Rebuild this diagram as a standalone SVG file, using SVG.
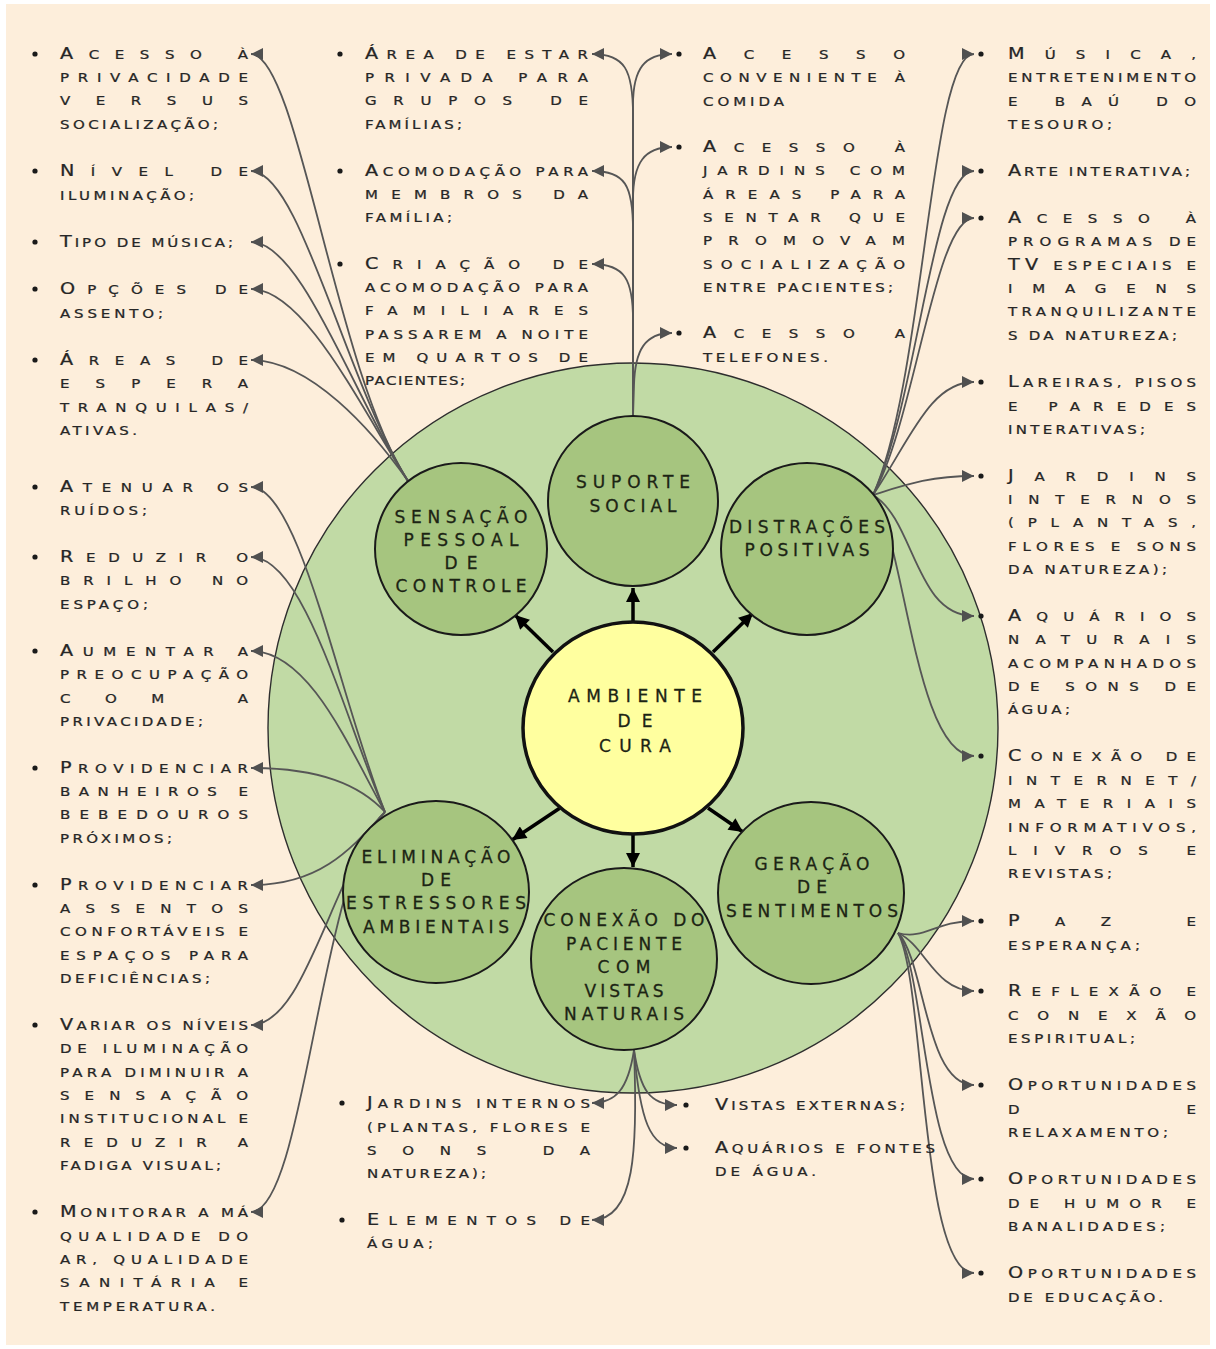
<svg xmlns="http://www.w3.org/2000/svg" width="1216" height="1349" viewBox="0 0 1216 1349">
<style>
.big{fill:#c1daa5;stroke:#2e2e2e;stroke-width:1.4}
.node{fill:#a6c57f;stroke:#1a1a1a;stroke-width:2}
.core{fill:#ffff9f;stroke:#111;stroke-width:3.5}
.lbl{font-family:"DejaVu Sans",sans-serif;font-size:17px;fill:#1c2414;stroke:#1c2414;stroke-width:0.3;text-anchor:middle}
.t{font-family:"DejaVu Sans",sans-serif;font-size:12.5px;fill:#262626;stroke:#262626;stroke-width:0.25}
.i{font-size:16px}
.c{fill:none;stroke:#565656;stroke-width:1.8;marker-end:url(#ah)}
.a{fill:none;stroke:#000;stroke-width:3.5;marker-end:url(#bh)}
.b{fill:#1a1a1a}
</style>
<defs>
<marker id="ah" viewBox="0 0 10 10" refX="10" refY="5" markerWidth="12" markerHeight="12" markerUnits="userSpaceOnUse" orient="auto"><path d="M0,0 L10,5 L0,10 z" fill="#505050"/></marker>
<marker id="bh" viewBox="0 0 10 10" refX="10" refY="5" markerWidth="15" markerHeight="14" markerUnits="userSpaceOnUse" orient="auto"><path d="M0,0 L10,5 L0,10 z" fill="#000"/></marker>
</defs>
<rect width="1216" height="1349" fill="#ffffff"/>
<rect x="6" y="4" width="1204" height="1341" fill="#fdeedb"/>
<circle class="big" cx="633" cy="728" r="365"/>

<g id="connectors">
<path class="a" d="M633,622 L633,588"/>
<path class="a" d="M553,652 L515,615"/>
<path class="a" d="M713,652 L753,613"/>
<path class="a" d="M560,808 L512,840"/>
<path class="a" d="M708,808 L743,832"/>
<path class="a" d="M633,834 L633,867"/>
<path class="c" d="M408,481 C335,370 298,54 251,54"/>
<path class="c" d="M408,481 C345,380 300,171 251,171"/>
<path class="c" d="M408,481 C355,400 302,242 251,242"/>
<path class="c" d="M408,481 C362,410 305,289 251,289"/>
<path class="c" d="M408,481 C372,430 310,360 251,360"/>
<path class="c" d="M633,417 L633,115 C633,70 625,54 592,54"/>
<path class="c" d="M633,417 L633,230 C633,185 625,171 592,171"/>
<path class="c" d="M633,417 L633,320 C633,280 625,264 592,264"/>
<path class="c" d="M633,417 L633,105 C633,68 645,54 672,54"/>
<path class="c" d="M633,417 L633,200 C633,162 645,147 672,147"/>
<path class="c" d="M633,417 L634,385 C635,350 645,333 672,333"/>
<path class="c" d="M873,495 C925,380 930,54 974,54"/>
<path class="c" d="M873,495 C918,400 932,171 974,171"/>
<path class="c" d="M873,495 C915,420 935,218 974,218"/>
<path class="c" d="M873,495 C910,440 930,382 974,382"/>
<path class="c" d="M873,495 C905,485 930,476 974,476"/>
<path class="c" d="M873,495 C915,520 915,616 974,616"/>
<path class="c" d="M873,495 C905,540 915,756 974,756"/>
<path class="c" d="M385,812 C340,700 300,487 251,487"/>
<path class="c" d="M385,812 C345,720 305,557 251,557"/>
<path class="c" d="M385,812 C350,750 310,651 251,651"/>
<path class="c" d="M385,812 C360,785 320,768 251,768"/>
<path class="c" d="M385,812 C350,850 320,885 251,885"/>
<path class="c" d="M385,812 C330,880 305,1025 251,1025"/>
<path class="c" d="M385,812 C320,870 305,1212 251,1212"/>
<path class="c" d="M634,1050 C628,1090 615,1103 592,1103"/>
<path class="c" d="M634,1050 C638,1150 635,1220 592,1220"/>
<path class="c" d="M634,1050 C640,1090 650,1105 677,1105"/>
<path class="c" d="M634,1050 C640,1120 650,1148 677,1148"/>
<path class="c" d="M898,933 C925,940 935,921 974,921"/>
<path class="c" d="M898,933 C925,945 935,991 974,991"/>
<path class="c" d="M898,933 C925,960 925,1085 974,1085"/>
<path class="c" d="M898,933 C925,970 925,1179 974,1179"/>
<path class="c" d="M898,933 C925,980 920,1273 974,1273"/>
</g>

<g id="n-core"><ellipse class="core" cx="633" cy="728" rx="110" ry="106"/>
<text class="lbl" x="635" y="702" textLength="134">AMBIENTE</text>
<text class="lbl" x="635" y="727" textLength="35">DE</text>
<text class="lbl" x="635" y="752" textLength="72">CURA</text></g>

<g id="n-suporte"><circle class="node" cx="633" cy="501" r="85"/>
<text class="lbl" x="633" y="488" textLength="114">SUPORTE</text>
<text class="lbl" x="633" y="512" textLength="87">SOCIAL</text></g>

<g id="n-sensacao"><circle class="node" cx="461" cy="549" r="86"/>
<text class="lbl" x="461" y="523" textLength="133">SENSAÇÃO</text>
<text class="lbl" x="461" y="546" textLength="115">PESSOAL</text>
<text class="lbl" x="461" y="569" textLength="33">DE</text>
<text class="lbl" x="461" y="592" textLength="131">CONTROLE</text></g>

<g id="n-distracoes"><circle class="node" cx="807" cy="549" r="86"/>
<text class="lbl" x="807" y="533" textLength="156">DISTRAÇÕES</text>
<text class="lbl" x="807" y="556" textLength="125">POSITIVAS</text></g>

<g id="n-eliminacao"><ellipse class="node" cx="436" cy="892" rx="93" ry="91"/>
<text class="lbl" x="436" y="863" textLength="149">ELIMINAÇÃO</text>
<text class="lbl" x="436" y="886" textLength="30">DE</text>
<text class="lbl" x="436" y="909" textLength="180">ESTRESSORES</text>
<text class="lbl" x="436" y="933" textLength="146">AMBIENTAIS</text></g>

<g id="n-conexao"><ellipse class="node" cx="624" cy="959" rx="93" ry="91"/>
<text class="lbl" x="624" y="926" textLength="161">CONEXÃO DO</text>
<text class="lbl" x="624" y="950" textLength="116">PACIENTE</text>
<text class="lbl" x="624" y="973" textLength="53">COM</text>
<text class="lbl" x="624" y="997" textLength="79">VISTAS</text>
<text class="lbl" x="624" y="1020" textLength="120">NATURAIS</text></g>

<g id="n-geracao"><ellipse class="node" cx="811" cy="893" rx="93" ry="91"/>
<text class="lbl" x="812" y="870" textLength="115">GERAÇÃO</text>
<text class="lbl" x="812" y="893" textLength="30">DE</text>
<text class="lbl" x="812" y="917" textLength="172">SENTIMENTOS</text></g>

<g id="bullets">
<circle class="b" cx="35" cy="54" r="2.6"/><circle class="b" cx="35" cy="171" r="2.6"/><circle class="b" cx="35" cy="242" r="2.6"/><circle class="b" cx="35" cy="289" r="2.6"/><circle class="b" cx="35" cy="360" r="2.6"/>
<circle class="b" cx="35" cy="487" r="2.6"/><circle class="b" cx="35" cy="557" r="2.6"/><circle class="b" cx="35" cy="651" r="2.6"/><circle class="b" cx="35" cy="768" r="2.6"/><circle class="b" cx="35" cy="885" r="2.6"/><circle class="b" cx="35" cy="1025" r="2.6"/><circle class="b" cx="35" cy="1212" r="2.6"/>
<circle class="b" cx="340" cy="54" r="2.6"/><circle class="b" cx="340" cy="171" r="2.6"/><circle class="b" cx="340" cy="264" r="2.6"/>
<circle class="b" cx="679" cy="54" r="2.6"/><circle class="b" cx="679" cy="147" r="2.6"/><circle class="b" cx="679" cy="333" r="2.6"/>
<circle class="b" cx="981" cy="54" r="2.6"/><circle class="b" cx="981" cy="171" r="2.6"/><circle class="b" cx="981" cy="218" r="2.6"/><circle class="b" cx="981" cy="382" r="2.6"/><circle class="b" cx="981" cy="476" r="2.6"/><circle class="b" cx="981" cy="616" r="2.6"/><circle class="b" cx="981" cy="756" r="2.6"/><circle class="b" cx="981" cy="921" r="2.6"/><circle class="b" cx="981" cy="991" r="2.6"/><circle class="b" cx="981" cy="1085" r="2.6"/><circle class="b" cx="981" cy="1179" r="2.6"/><circle class="b" cx="981" cy="1273" r="2.6"/>
<circle class="b" cx="342" cy="1103" r="2.6"/><circle class="b" cx="342" cy="1220" r="2.6"/><circle class="b" cx="686" cy="1105" r="2.6"/><circle class="b" cx="686" cy="1148" r="2.6"/>
</g>

<g id="list-left" transform="translate(60,0) scale(1.2,1)">
<text class="t" x="0" y="59" textLength="156.7"><tspan class="i">A</tspan>CESSO À</text>
<text class="t" x="0" y="82" textLength="156.7">PRIVACIDADE</text>
<text class="t" x="0" y="105" textLength="156.7">VERSUS</text>
<text class="t" x="0" y="129" textLength="131.7">SOCIALIZAÇÃO;</text>
<text class="t" x="0" y="176" textLength="156.7"><tspan class="i">N</tspan>ÍVEL DE</text>
<text class="t" x="0" y="200" textLength="111.7">ILUMINAÇÃO;</text>
<text class="t" x="0" y="247" textLength="144.2"><tspan class="i">T</tspan>IPO DE MÚSICA;</text>
<text class="t" x="0" y="294" textLength="156.7"><tspan class="i">O</tspan>PÇÕES DE</text>
<text class="t" x="0" y="318" textLength="85.8">ASSENTO;</text>
<text class="t" x="0" y="365" textLength="156.7"><tspan class="i">Á</tspan>REAS DE</text>
<text class="t" x="0" y="388" textLength="156.7">ESPERA</text>
<text class="t" x="0" y="412" textLength="156.7">TRANQUILAS/</text>
<text class="t" x="0" y="435" textLength="64.2">ATIVAS.</text>
<text class="t" x="0" y="492" textLength="156.7"><tspan class="i">A</tspan>TENUAR OS</text>
<text class="t" x="0" y="515" textLength="72.5">RUÍDOS;</text>
<text class="t" x="0" y="562" textLength="156.7"><tspan class="i">R</tspan>EDUZIR O</text>
<text class="t" x="0" y="585" textLength="156.7">BRILHO NO</text>
<text class="t" x="0" y="609" textLength="73.3">ESPAÇO;</text>
<text class="t" x="0" y="656" textLength="156.7"><tspan class="i">A</tspan>UMENTAR A</text>
<text class="t" x="0" y="679" textLength="156.7">PREOCUPAÇÃO</text>
<text class="t" x="0" y="703" textLength="156.7">COM A</text>
<text class="t" x="0" y="726" textLength="119.2">PRIVACIDADE;</text>
<text class="t" x="0" y="773" textLength="156.7"><tspan class="i">P</tspan>ROVIDENCIAR</text>
<text class="t" x="0" y="796" textLength="156.7">BANHEIROS E</text>
<text class="t" x="0" y="819" textLength="156.7">BEBEDOUROS</text>
<text class="t" x="0" y="843" textLength="93.3">PRÓXIMOS;</text>
<text class="t" x="0" y="890" textLength="156.7"><tspan class="i">P</tspan>ROVIDENCIAR</text>
<text class="t" x="0" y="913" textLength="156.7">ASSENTOS</text>
<text class="t" x="0" y="936" textLength="156.7">CONFORTÁVEIS E</text>
<text class="t" x="0" y="960" textLength="156.7">ESPAÇOS PARA</text>
<text class="t" x="0" y="983" textLength="125">DEFICIÊNCIAS;</text>
<text class="t" x="0" y="1030" textLength="156.7"><tspan class="i">V</tspan>ARIAR OS NÍVEIS</text>
<text class="t" x="0" y="1053" textLength="156.7">DE ILUMINAÇÃO</text>
<text class="t" x="0" y="1077" textLength="156.7">PARA DIMINUIR A</text>
<text class="t" x="0" y="1100" textLength="156.7">SENSAÇÃO</text>
<text class="t" x="0" y="1123" textLength="156.7">INSTITUCIONAL E</text>
<text class="t" x="0" y="1147" textLength="156.7">REDUZIR A</text>
<text class="t" x="0" y="1170" textLength="134.2">FADIGA VISUAL;</text>
<text class="t" x="0" y="1217" textLength="156.7"><tspan class="i">M</tspan>ONITORAR A MÁ</text>
<text class="t" x="0" y="1241" textLength="156.7">QUALIDADE DO</text>
<text class="t" x="0" y="1264" textLength="156.7">AR, QUALIDADE</text>
<text class="t" x="0" y="1287" textLength="156.7">SANITÁRIA E</text>
<text class="t" x="0" y="1311" textLength="129.2">TEMPERATURA.</text>
</g>

<g id="list-top-mid-left" transform="translate(365,0) scale(1.2,1)">
<text class="t" x="0" y="59" textLength="185.8"><tspan class="i">Á</tspan>REA DE ESTAR</text>
<text class="t" x="0" y="82" textLength="185.8">PRIVADA PARA</text>
<text class="t" x="0" y="105" textLength="185.8">GRUPOS DE</text>
<text class="t" x="0" y="129" textLength="80.8">FAMÍLIAS;</text>
<text class="t" x="0" y="176" textLength="185.8"><tspan class="i">A</tspan>COMODAÇÃO PARA</text>
<text class="t" x="0" y="199" textLength="185.8">MEMBROS DA</text>
<text class="t" x="0" y="222" textLength="72.5">FAMÍLIA;</text>
<text class="t" x="0" y="269" textLength="185.8"><tspan class="i">C</tspan>RIAÇÃO DE</text>
<text class="t" x="0" y="292" textLength="185.8">ACOMODAÇÃO PARA</text>
<text class="t" x="0" y="315" textLength="185.8">FAMILIARES</text>
<text class="t" x="0" y="339" textLength="185.8">PASSAREM A NOITE</text>
<text class="t" x="0" y="362" textLength="185.8">EM QUARTOS DE</text>
<text class="t" x="0" y="385" textLength="83.3">PACIENTES;</text>
</g>

<g id="list-top-mid-right" transform="translate(703,0) scale(1.2,1)">
<text class="t" x="0" y="59" textLength="168.3"><tspan class="i">A</tspan>CESSO</text>
<text class="t" x="0" y="82" textLength="168.3">CONVENIENTE À</text>
<text class="t" x="0" y="106" textLength="67.5">COMIDA</text>
<text class="t" x="0" y="152" textLength="168.3"><tspan class="i">A</tspan>CESSO À</text>
<text class="t" x="0" y="175" textLength="168.3">JARDINS COM</text>
<text class="t" x="0" y="199" textLength="168.3">ÁREAS PARA</text>
<text class="t" x="0" y="222" textLength="168.3">SENTAR QUE</text>
<text class="t" x="0" y="245" textLength="168.3">PROMOVAM</text>
<text class="t" x="0" y="269" textLength="168.3">SOCIALIZAÇÃO</text>
<text class="t" x="0" y="292" textLength="158.3">ENTRE PACIENTES;</text>
<text class="t" x="0" y="338" textLength="168.3"><tspan class="i">A</tspan>CESSO A</text>
<text class="t" x="0" y="362" textLength="104.2">TELEFONES.</text>
</g>

<g id="list-right" transform="translate(1008,0) scale(1.2,1)">
<text class="t" x="0" y="59" textLength="156.7"><tspan class="i">M</tspan>ÚSICA,</text>
<text class="t" x="0" y="82" textLength="156.7">ENTRETENIMENTO</text>
<text class="t" x="0" y="106" textLength="156.7">E BAÚ DO</text>
<text class="t" x="0" y="129" textLength="86.7">TESOURO;</text>
<text class="t" x="0" y="176" textLength="151.7"><tspan class="i">A</tspan>RTE INTERATIVA;</text>
<text class="t" x="0" y="223" textLength="156.7"><tspan class="i">A</tspan>CESSO À</text>
<text class="t" x="0" y="246" textLength="156.7">PROGRAMAS DE</text>
<text class="t" x="0" y="270" textLength="156.7"><tspan class="i">TV</tspan> ESPECIAIS E</text>
<text class="t" x="0" y="293" textLength="156.7">IMAGENS</text>
<text class="t" x="0" y="316" textLength="156.7">TRANQUILIZANTE</text>
<text class="t" x="0" y="340" textLength="140.8">S DA NATUREZA;</text>
<text class="t" x="0" y="387" textLength="156.7"><tspan class="i">L</tspan>AREIRAS, PISOS</text>
<text class="t" x="0" y="411" textLength="156.7">E PAREDES</text>
<text class="t" x="0" y="434" textLength="114.2">INTERATIVAS;</text>
<text class="t" x="0" y="481" textLength="156.7"><tspan class="i">J</tspan>ARDINS</text>
<text class="t" x="0" y="504" textLength="156.7">INTERNOS</text>
<text class="t" x="0" y="527" textLength="156.7">(PLANTAS,</text>
<text class="t" x="0" y="551" textLength="156.7">FLORES E SONS</text>
<text class="t" x="0" y="574" textLength="132.5">DA NATUREZA);</text>
<text class="t" x="0" y="621" textLength="156.7"><tspan class="i">A</tspan>QUÁRIOS</text>
<text class="t" x="0" y="644" textLength="156.7">NATURAIS</text>
<text class="t" x="0" y="668" textLength="156.7">ACOMPANHADOS</text>
<text class="t" x="0" y="691" textLength="156.7">DE SONS DE</text>
<text class="t" x="0" y="714" textLength="51.7">ÁGUA;</text>
<text class="t" x="0" y="761" textLength="156.7"><tspan class="i">C</tspan>ONEXÃO DE</text>
<text class="t" x="0" y="785" textLength="156.7">INTERNET/</text>
<text class="t" x="0" y="808" textLength="156.7">MATERIAIS</text>
<text class="t" x="0" y="832" textLength="156.7">INFORMATIVOS,</text>
<text class="t" x="0" y="855" textLength="156.7">LIVROS E</text>
<text class="t" x="0" y="878" textLength="86.7">REVISTAS;</text>
<text class="t" x="0" y="926" textLength="156.7"><tspan class="i">P</tspan>AZ E</text>
<text class="t" x="0" y="950" textLength="110">ESPERANÇA;</text>
<text class="t" x="0" y="996" textLength="156.7"><tspan class="i">R</tspan>EFLEXÃO E</text>
<text class="t" x="0" y="1020" textLength="156.7">CONEXÃO</text>
<text class="t" x="0" y="1043" textLength="105.8">ESPIRITUAL;</text>
<text class="t" x="0" y="1090" textLength="156.7"><tspan class="i">O</tspan>PORTUNIDADES</text>
<text class="t" x="0" y="1114" textLength="156.7">DE</text>
<text class="t" x="0" y="1137" textLength="133.3">RELAXAMENTO;</text>
<text class="t" x="0" y="1184" textLength="156.7"><tspan class="i">O</tspan>PORTUNIDADES</text>
<text class="t" x="0" y="1208" textLength="156.7">DE HUMOR E</text>
<text class="t" x="0" y="1231" textLength="130.8">BANALIDADES;</text>
<text class="t" x="0" y="1278" textLength="156.7"><tspan class="i">O</tspan>PORTUNIDADES</text>
<text class="t" x="0" y="1302" textLength="129.2">DE EDUCAÇÃO.</text>
</g>

<g id="list-bottom-left" transform="translate(367,0) scale(1.2,1)">
<text class="t" x="0" y="1108" textLength="185.8"><tspan class="i">J</tspan>ARDINS INTERNOS</text>
<text class="t" x="0" y="1132" textLength="185.8">(PLANTAS, FLORES E</text>
<text class="t" x="0" y="1155" textLength="185.8">SONS DA</text>
<text class="t" x="0" y="1178" textLength="99.2">NATUREZA);</text>
<text class="t" x="0" y="1225" textLength="185.8"><tspan class="i">E</tspan>LEMENTOS DE</text>
<text class="t" x="0" y="1248" textLength="55">ÁGUA;</text>
</g>

<g id="list-bottom-right" transform="translate(715,0) scale(1.2,1)">
<text class="t" x="0" y="1110" textLength="158.3"><tspan class="i">V</tspan>ISTAS EXTERNAS;</text>
<text class="t" x="0" y="1153" textLength="183.3"><tspan class="i">A</tspan>QUÁRIOS E FONTES</text>
<text class="t" x="0" y="1176" textLength="84.2">DE ÁGUA.</text>
</g>
</svg>
